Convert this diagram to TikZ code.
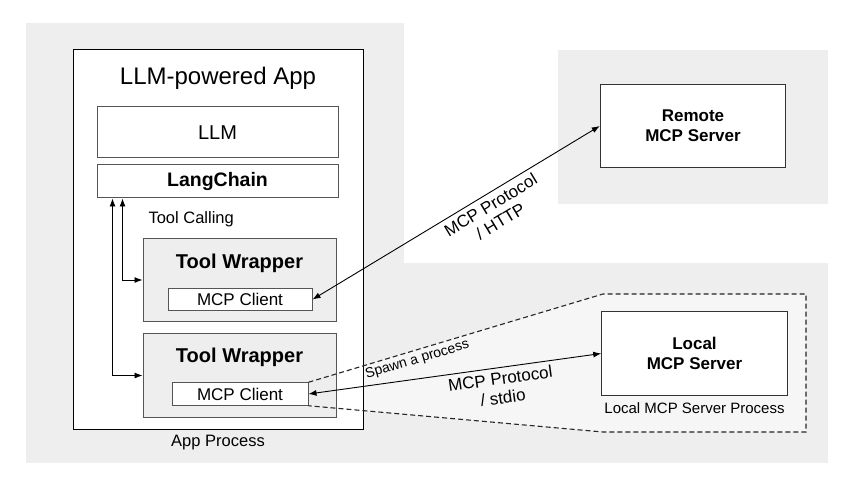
\documentclass[tikz,border=0pt]{standalone}
\usepackage{fontspec}
\setmainfont{Liberation Sans}
\usetikzlibrary{arrows.meta,positioning,backgrounds}
\definecolor{regiongray}{HTML}{EEEEEE}
\definecolor{procgray}{HTML}{F6F6F6}
\definecolor{linegray}{HTML}{555555}

\begin{document}
\begin{tikzpicture}[x=1pt, y=-1pt,
    box/.style={draw=linegray, line width=1pt, fill=white, inner sep=0pt, align=center},
    wrapper/.style={draw=linegray, line width=1pt, fill=regiongray, minimum width=193pt, minimum height=83.5pt},
    client/.style={box, minimum height=22.5pt, font=\fontsize{17}{19}\selectfont},
    server/.style={box, draw=black!80, minimum width=185.5pt, minimum height=83.5pt, font=\bfseries\fontsize{17}{20}\selectfont},
    link/.style={line width=0.9pt, {Latex[length=8pt,width=6pt]}-{Latex[length=8pt,width=6pt]}},
    small/.style={font=\fontsize{16.5}{19}\selectfont}]
  \useasboundingbox (0,0) rectangle (852,484);
  \coordinate (pNW) at (603,294);
  \coordinate (pNE) at (806,294);
  \coordinate (pSE) at (806,432);
  \coordinate (pSW) at (603,432);

  % app process
  \node[draw, line width=1pt, fill=white, minimum width=290pt, minimum height=379pt] (app) at (218,239.5) {};
  \node[font=\fontsize{24}{28}\selectfont] (apptitle) at (218,78) {LLM-powered App};
  \node[box, minimum width=241pt, minimum height=51pt, font=\fontsize{20}{24}\selectfont] (llm) at (217.5,132.5) {LLM};
  \node[box, minimum width=241pt, minimum height=33pt, font=\bfseries\fontsize{19.5}{23}\selectfont, below=6pt of llm] (lc) {LangChain};
  \node[small, anchor=west] (toolcall) at (145,219) {Tool Calling};
  \node[wrapper] (tw1) at (239.5,280) {};
  \node[wrapper, below=11pt of tw1] (tw2) {};
  \node[font=\bfseries\fontsize{20}{24}\selectfont] (tw1title) at (239.5,263) {Tool Wrapper};
  \node[font=\bfseries\fontsize{20}{24}\selectfont] (tw2title) at (239.5,357) {Tool Wrapper};
  \node[client, minimum width=144pt] (mc1) at (240,299.5) {MCP Client};
  \node[client, minimum width=136pt] (mc2) at (240,394) {MCP Client};
  \node[small, below=2pt of app] (appproc) {App Process};

  % servers
  \node[server] (remote) at (693,126) {Remote\\MCP Server};
  \node[server] (local) at (694.5,353.5) {Local\\MCP Server};
  \node[font=\fontsize{15}{18}\selectfont, below=3pt of local] (lproc) {Local MCP Server Process};

  \begin{scope}[on background layer]
    \fill[regiongray] (26,23) rectangle (404,463);
    \fill[regiongray] (404,263) rectangle (828,463);
    \fill[regiongray] (558,50) rectangle (828,204);
    \fill[procgray] (mc2.north east) -- (pNW) -- (pNE) -- (pSE) -- (pSW) -- (mc2.south east) -- cycle;
  \end{scope}

  \draw[link] ([xshift=16pt]lc.south west) |- (tw2.west);
  \draw[link] ([xshift=26pt]lc.south west) |- (tw1.west);
  \draw[link] (mc1.east) -- node[pos=0.6, sloped, below=1pt, align=center, font=\fontsize{17}{19}\selectfont] {MCP Protocol\\/ HTTP} (remote.west);
  \draw[link] (mc2.east) -- node[pos=0.65, sloped, below=1pt, align=center, font=\fontsize{17}{19}\selectfont] {MCP Protocol\\/ stdio} (local.west);
  \draw[dash pattern=on 5pt off 3pt, line width=1.1pt, black!85] (mc2.north east) -- node[pos=0.36, sloped, below=1pt, inner sep=2pt, font=\fontsize{14}{16}\selectfont, black] {Spawn a process} (pNW) -- (pNE) -- (pSE) -- (pSW) -- (mc2.south east);
\end{tikzpicture}
\end{document}
